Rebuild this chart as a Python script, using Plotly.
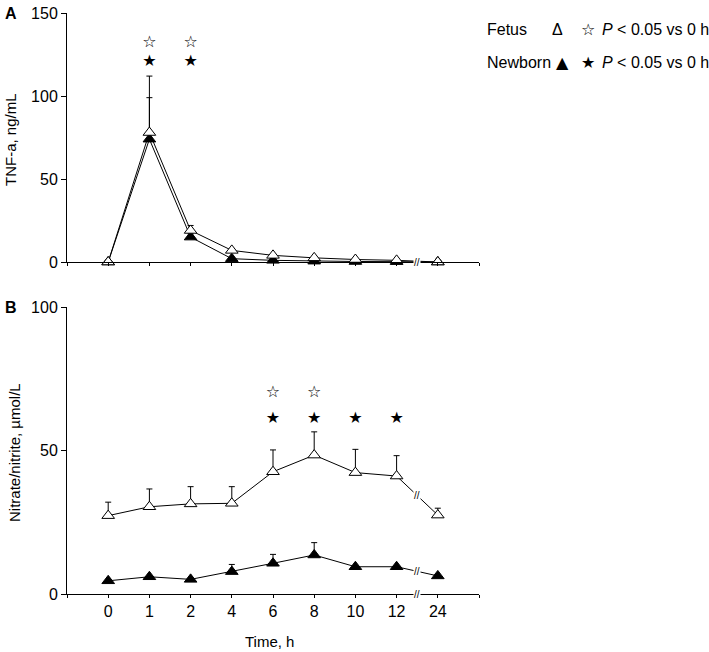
import plotly.graph_objects as go

# ---- data ----
time_labels = ["0", "1", "2", "4", "6", "8", "10", "12", "24"]
xi = list(range(len(time_labels)))

tnf_fetus = [0, 78, 19, 7, 4, 2.5, 1.5, 1, 0]
tnf_fetus_err = [0, 34, 3, 1, 0.5, 0.3, 0.3, 0, 0]
tnf_newborn = [0, 74, 15, 2, 1, 0.5, 0.3, 0.2, 0]
tnf_newborn_err = [0, 25, 2, 0.5, 0, 0, 0, 0, 0]

nox_fetus = [27.3, 30.4, 31.4, 31.6, 42.6, 48.4, 42.3, 41.1, 27.5]
nox_fetus_err = [4.7, 6.2, 6.0, 5.8, 7.6, 8.1, 8.1, 7.1, 2.4]
nox_newborn = [4.6, 6.0, 5.1, 7.8, 10.7, 13.6, 9.5, 9.5, 6.3]
nox_newborn_err = [0, 0, 0, 2.5, 3.1, 4.3, 0, 0, 0]

# significance stars (x index, level)
tnf_open_star_x = [1, 2]
tnf_fill_star_x = [1, 2]
tnf_open_star_y = 131.7
tnf_fill_star_y = 120.7
nox_open_star_x = [4, 5]
nox_fill_star_x = [4, 5, 6, 7]
nox_open_star_y = 70
nox_fill_star_y = 61

FONT = "Arial, Liberation Sans, sans-serif"
FS = 16

fig = go.Figure()


def add_series(y, err, xa, ya, fill):
    fig.add_trace(go.Scatter(
        x=xi, y=y, xaxis=xa, yaxis=ya, mode="lines+markers",
        line=dict(color="black", width=1),
        marker=dict(symbol="triangle-up", size=11,
                    color="black" if fill else "white",
                    line=dict(color="black", width=1)),
        error_y=dict(type="data", symmetric=False, array=err,
                     arrayminus=[0] * len(err), color="black",
                     thickness=1, width=3),
        cliponaxis=False, showlegend=False, hoverinfo="skip"))


def add_stars(xs, yv, glyph, xa, ya):
    fig.add_trace(go.Scatter(
        x=xs, y=[yv] * len(xs), xaxis=xa, yaxis=ya, mode="text",
        text=[glyph] * len(xs), textfont=dict(size=16, color="black",
                                              family="DejaVu Sans"),
        showlegend=False, cliponaxis=False, hoverinfo="skip"))


# Panel A
add_series(tnf_newborn, tnf_newborn_err, "x", "y", True)
add_series(tnf_fetus, tnf_fetus_err, "x", "y", False)
add_stars(tnf_open_star_x, tnf_open_star_y, "☆", "x", "y")
add_stars(tnf_fill_star_x, tnf_fill_star_y, "★", "x", "y")

# Panel B
add_series(nox_newborn, nox_newborn_err, "x2", "y2", True)
add_series(nox_fetus, nox_fetus_err, "x2", "y2", False)
add_stars(nox_open_star_x, nox_open_star_y, "☆", "x2", "y2")
add_stars(nox_fill_star_x, nox_fill_star_y, "★", "x2", "y2")

tickvals = list(range(-1, len(time_labels) + 1))
ticktext = [""] + time_labels + [""]

xcommon = dict(range=[-1, len(time_labels)], showgrid=False, zeroline=False,
               showline=True, linecolor="black", linewidth=1,
               ticks="outside", ticklen=3, tickcolor="black",
               tickvals=tickvals, ticktext=ticktext, automargin=False,
               tickfont=dict(family=FONT, size=FS, color="black"))
ycommon = dict(showgrid=False, zeroline=False, showline=True,
               linecolor="black", linewidth=1, ticks="outside", ticklen=5,
               tickcolor="black", automargin=False,
               tickfont=dict(family=FONT, size=FS, color="black"))

W, H = 709, 652
ML = 67
MR = W - 479
MT = 13
MB = H - 594
PW, PH = W - ML - MR, H - MT - MB

px_x = lambda px: (px - ML) / PW
px_y = lambda py: (H - MB - py) / PH

fig.update_layout(
    width=W, height=H, plot_bgcolor="white", paper_bgcolor="white",
    margin=dict(l=ML, r=MR, t=MT, b=MB),
    font=dict(family=FONT, size=FS, color="black"),
    xaxis=dict(**xcommon, anchor="y", showticklabels=False),
    yaxis=dict(**ycommon, domain=[px_y(262), 1], range=[0, 150],
               tickvals=[0, 50, 100, 150], anchor="x"),
    xaxis2=dict(**xcommon, anchor="y2"),
    yaxis2=dict(**ycommon, domain=[0, px_y(307)], range=[0, 100],
                tickvals=[0, 50, 100], anchor="x2"),
)

ann = []
# axis break marks
brk_x = (xi[-2] + xi[-1]) / 2
for xa, ya in (("x", "y"), ("x2", "y2")):
    ann.append(dict(x=brk_x, y=0, xref=xa, yref=ya, text="//", showarrow=False,
                    font=dict(size=10, family=FONT, color="black"),
                    bgcolor="white", borderpad=0))
for series in (nox_fetus, nox_newborn):
    ann.append(dict(x=brk_x, y=(series[-2] + series[-1]) / 2, xref="x2",
                    yref="y2", text="//", showarrow=False,
                    font=dict(size=10, family=FONT, color="black"),
                    bgcolor="white", borderpad=0))

# axis titles
ann.append(dict(x=px_x(10), y=px_y(140), xref="paper", yref="paper",
                text="TNF-a, ng/mL", textangle=-90, showarrow=False,
                xanchor="center", yanchor="middle", font=dict(size=15)))
ann.append(dict(x=px_x(14), y=px_y(453), xref="paper", yref="paper",
                text="Nitrate/nitrite, µmol/L", textangle=-90, showarrow=False,
                xanchor="center", yanchor="middle", font=dict(size=15)))
ann.append(dict(x=px_x(269), y=px_y(641), xref="paper", yref="paper",
                text="Time, h", showarrow=False, xanchor="center",
                yanchor="middle", font=dict(size=15)))

# panel letters
ann.append(dict(x=px_x(3), y=px_y(13), xref="paper", yref="paper",
                text="<b>A</b>", showarrow=False, font=dict(size=16),
                xanchor="left", yanchor="middle"))
ann.append(dict(x=px_x(3), y=px_y(308), xref="paper", yref="paper",
                text="<b>B</b>", showarrow=False, font=dict(size=16),
                xanchor="left", yanchor="middle"))

# custom legend
legend_rows = [("Fetus", "Δ", FONT, 557, "☆", 29),
               ("Newborn", "▲", "DejaVu Sans", 562, "★", 62)]
for name, tri, trifont, trix, star, py in legend_rows:
    ann.append(dict(x=px_x(485), y=px_y(py), xref="paper", yref="paper",
                    text=name, showarrow=False, xanchor="left",
                    yanchor="middle", font=dict(size=FS)))
    ann.append(dict(x=px_x(trix), y=px_y(py), xref="paper", yref="paper",
                    text=tri, showarrow=False, xanchor="center",
                    yanchor="middle", font=dict(size=16, family=trifont)))
    ann.append(dict(x=px_x(588), y=px_y(py), xref="paper", yref="paper",
                    text=star, showarrow=False, xanchor="center",
                    yanchor="middle", font=dict(size=16, family="DejaVu Sans")))
    ann.append(dict(x=px_x(600), y=px_y(py), xref="paper", yref="paper",
                    text="<i>P</i> < 0.05 vs 0 h", showarrow=False,
                    xanchor="left", yanchor="middle", font=dict(size=FS)))

fig.update_layout(annotations=ann)
fig.write_html(
    "out.html",
    config={"displayModeBar": False},
    post_script="document.body.style.margin='0';document.body.style.padding='0';",
)
